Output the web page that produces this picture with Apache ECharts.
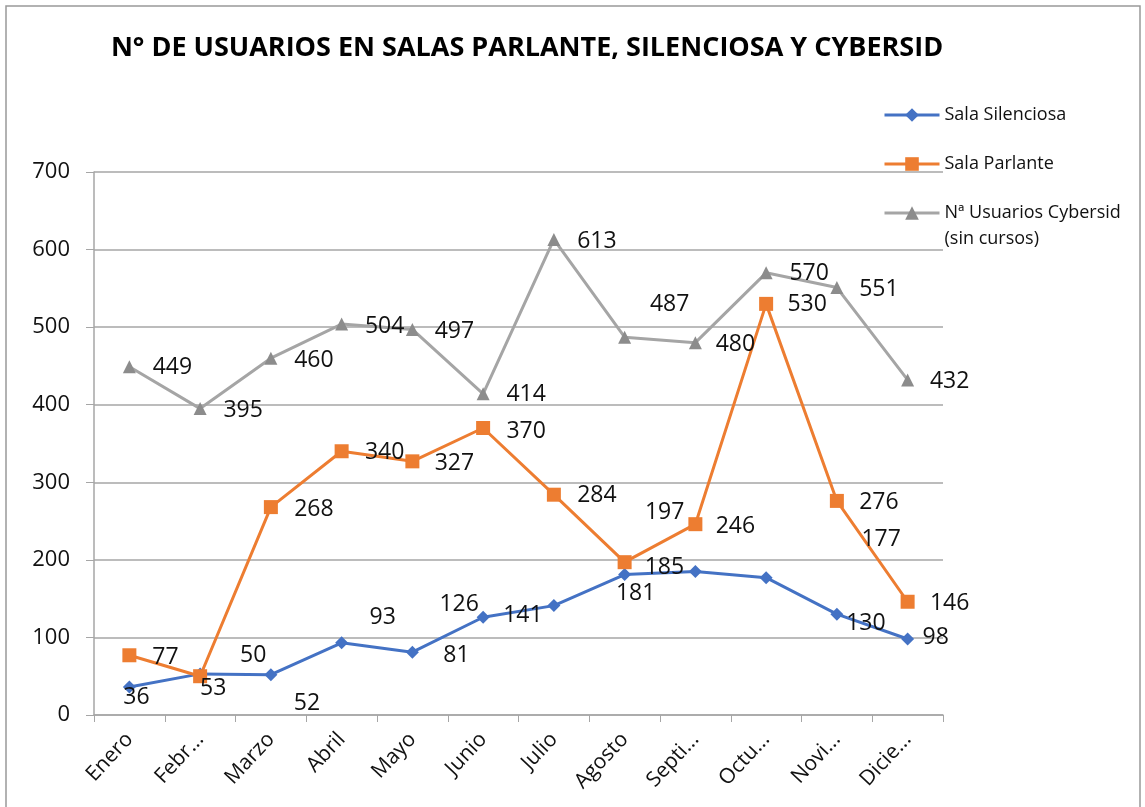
<!DOCTYPE html>
<html>
<head>
<meta charset="utf-8">
<script src="https://cdn.jsdelivr.net/npm/echarts@6/dist/echarts.min.js"></script>
<style>
  html, body { margin: 0; padding: 0; background: #fff; }
  #chart { width: 1145px; height: 807px; }
</style>
</head>
<body>
<div id="chart"></div>
<script>
// categories as shown on the axis (Excel truncated some)
const months = ["Enero", "Febr...", "Marzo", "Abril", "Mayo", "Junio", "Julio", "Agosto", "Septi...", "Octu...", "Novi...", "Dicie..."];

const salaSilenciosa = [36, 53, 52, 93, 81, 126, 141, 181, 185, 177, 130, 98];
const salaParlante = [77, 50, 268, 340, 327, 370, 284, 197, 246, 530, 276, 146];
const cybersid = [449, 395, 460, 504, 497, 414, 613, 487, 480, 570, 551, 432];

const seriesNames = ["Sala Silenciosa", "Sala Parlante", "Nª Usuarios Cybersid (sin cursos)"];

// label nudges (px from the marker centre), the source had them hand-moved
const offsSilenciosa = [[7, 10], [13, 15], [36, 29], [41, -25], [44, 3], [-24, -13], [-31, 10], [11, 19], [-31, -4], [115, -38], [29, 9], [28, -2]];
const offsParlante = [[36, 2], [53, -21], [43, 2], [43, 1], [42, 2], [43, 3], [43, 1], [40, -50], [40, 2], [41, 1], [42, 2], [42, 2]];
const offsCybersid = [[43, 1], [43, 2], [43, 2], [43, 2], [42, 2], [43, 1], [43, 2], [45, -33], [40, 2], [43, 1], [42, 2], [42, 2]];

const FONT = "Open Sans";

function withLabels(values, offsets) {
  return values.map((v, i) => ({
    value: v,
    label: { offset: offsets[i] },
  }));
}

function lineSeries(name, values, offsets, color, markerColor, symbol, size) {
  return {
    name,
    type: "line",
    data: withLabels(values, offsets),
    symbol,
    symbolSize: size,
    lineStyle: { color, width: 3 },
    itemStyle: { color: markerColor, borderWidth: 0 },
    label: {
      show: true,
      position: "inside",
      color: "#111",
      fontFamily: FONT,
      fontSize: 23,
    },
    emphasis: { disabled: true },
  };
}

function legendAt(top, name, formatter) {
  return {
    data: [name],
    orient: "vertical",
    left: 883,
    top,
    padding: 0,
    itemWidth: 55,
    itemHeight: 17,
    formatter: formatter || "{name}",
    lineStyle: { width: 3 },
    textStyle: { color: "#111", fontFamily: FONT, fontSize: 18, lineHeight: 26 },
  };
}

const chart = echarts.init(document.getElementById("chart"), null, { renderer: "canvas" });

chart.setOption({
  backgroundColor: "#fff",
  animation: false,
  title: {
    text: "N° DE USUARIOS EN SALAS PARLANTE, SILENCIOSA Y CYBERSID",
    left: 522,
    textAlign: "center",
    top: 30,
    textStyle: { fontFamily: FONT, fontWeight: "bold", fontSize: 27, color: "#000" },
  },
  legend: [
    legendAt(102, seriesNames[0]),
    legendAt(151, seriesNames[1]),
    // blank first line so the icon lines up with the first text line
    legendAt(174, seriesNames[2], () => " \nNª Usuarios Cybersid\n(sin cursos)"),
  ],
  grid: { left: 94, right: 202, top: 172, bottom: 92, containLabel: false },
  xAxis: {
    type: "category",
    data: months,
    boundaryGap: true,
    axisLine: { lineStyle: { color: "#a6a6a6", width: 1.5 } },
    axisTick: { show: true, length: 7, lineStyle: { color: "#a6a6a6" } },
    axisLabel: {
      rotate: 47,
      color: "#111",
      fontFamily: FONT,
      fontSize: 21,
      margin: 21,
      interval: 0,
    },
  },
  yAxis: {
    type: "value",
    min: 0,
    max: 700,
    interval: 100,
    axisLine: { show: true, lineStyle: { color: "#a6a6a6", width: 1.5 } },
    axisTick: { show: true, length: 8, lineStyle: { color: "#a6a6a6" } },
    axisLabel: { color: "#111", fontFamily: FONT, fontSize: 22, margin: 24 },
    splitLine: { lineStyle: { color: "#a6a6a6", width: 1.5 } },
  },
  graphic: [
    {
      type: "rect",
      shape: { x: 6, y: 6, width: 1134, height: 900 },
      style: { fill: null, stroke: "#999", lineWidth: 1.5 },
      silent: true,
    },
  ],
  series: [
    lineSeries(seriesNames[0], salaSilenciosa, offsSilenciosa, "#4472C4", "#4472C4", "diamond", 13),
    lineSeries(seriesNames[1], salaParlante, offsParlante, "#ED7D31", "#ED7D31", "rect", 14),
    lineSeries(seriesNames[2], cybersid, offsCybersid, "#A5A5A5", "#8c8c8c", "triangle", 13),
  ],
});
</script>
</body>
</html>
